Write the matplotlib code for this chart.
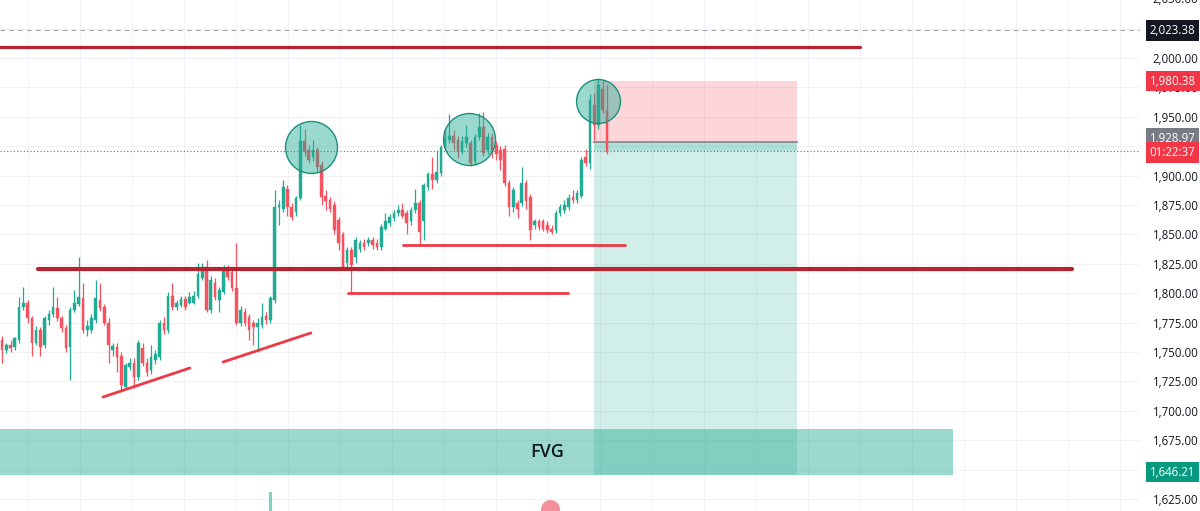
import numpy as np
import matplotlib
matplotlib.use('Agg')
import matplotlib.pyplot as plt
from matplotlib.patches import Rectangle
from matplotlib.ticker import FixedLocator, FuncFormatter

# ---------------- data ----------------
opens = [1760,1752,1756,1754,1760,1788,1792,1779,1758,1769,
         1756,1777,1782,1787,1779,1770,1754,1786,1791,1796,
         1769,1769,1777,1794,1788,1775,1752,1754,1747,1720,
         1737,1741,1729,1753,1741,1735,1743,1746,1775,1769,
         1798,1788,1790,1795,1792,1792,1798,1813,1822,1786,
         1809,1794,1801,1820,1818,1804,1775,1784,1780,1775,
         1771,1773,1781,1777,1794,1873,1872,1889,1873,1869,
         1881,1929,1922,1916,1922,1909,1883,1879,1875,1862,
         1850,1826,1837,1831,1838,1843,1843,1845,1843,1839,
         1855,1860,1864,1868,1871,1868,1861,1871,1877,1861,
         1890,1901,1896,1902,1924,1930,1934,1930,1920,1928,
         1928,1912,1933,1941,1922,1933,1926,1922,1923,1894,
         1873,1877,1877,1894,1882,1858,1861,1861,1858,1855,
         1854,1868,1871,1873,1882,1879,1883,1916,1911,1960,
         1943,1974,1956]
highs = [1764,1758,1760,1763,1797,1805,1794,1781,1772,1771,
         1781,1786,1805,1797,1781,1773,1788,1803,1831,1809,
         1777,1782,1811,1809,1791,1779,1758,1758,1750,1741,
         1745,1745,1760,1758,1745,1756,1752,1777,1780,1801,
         1809,1794,1798,1798,1801,1802,1826,1826,1828,1815,
         1813,1805,1824,1824,1821,1843,1789,1787,1782,1777,
         1779,1792,1784,1798,1888,1879,1896,1892,1877,1883,
         1943,1940,1926,1930,1924,1912,1888,1882,1878,1865,
         1852,1839,1839,1848,1845,1846,1848,1848,1846,1859,
         1868,1867,1871,1875,1877,1871,1873,1889,1879,1894,
         1903,1916,1922,1926,1940,1952,1939,1934,1934,1943,
         1930,1935,1953,1954,1936,1936,1929,1925,1926,1896,
         1890,1879,1907,1896,1884,1863,1863,1863,1861,1858,
         1871,1876,1879,1884,1888,1888,1916,1923,1969,1970,
         1983,1981,1977]
lows = [1741,1749,1750,1752,1758,1786,1775,1747,1756,1747,
        1753,1773,1780,1776,1767,1750,1726,1784,1789,1766,
        1764,1766,1775,1785,1773,1741,1747,1733,1716,1718,
        1735,1719,1726,1738,1730,1731,1740,1743,1765,1766,
        1786,1786,1788,1786,1791,1791,1796,1811,1784,1783,
        1794,1784,1799,1811,1802,1773,1772,1772,1760,1756,
        1750,1770,1774,1775,1792,1858,1869,1866,1862,1866,
        1879,1917,1911,1912,1903,1875,1871,1869,1850,1837,
        1820,1821,1800,1826,1835,1837,1840,1838,1837,1837,
        1854,1857,1861,1866,1864,1850,1858,1868,1841,1845,
        1888,1889,1894,1900,1922,1928,1922,1915,1918,1924,
        1908,1909,1930,1917,1918,1915,1913,1905,1891,1866,
        1869,1864,1874,1872,1845,1855,1854,1853,1851,1850,
        1851,1866,1868,1871,1877,1877,1881,1908,1906,1930,
        1940,1953,1918]
closes = [1752,1756,1753,1762,1788,1792,1779,1758,1769,1754,
          1779,1782,1788,1779,1770,1753,1786,1792,1797,1769,
          1772,1779,1796,1787,1775,1756,1755,1746,1722,1739,
          1741,1729,1758,1741,1733,1746,1748,1775,1769,1798,
          1788,1792,1795,1788,1797,1798,1816,1822,1786,1811,
          1797,1803,1820,1814,1804,1775,1786,1775,1769,1771,
          1775,1780,1777,1796,1873,1875,1890,1873,1865,1881,
          1929,1920,1913,1922,1907,1882,1878,1872,1854,1843,
          1822,1837,1824,1845,1843,1839,1845,1841,1839,1856,
          1861,1865,1868,1871,1866,1860,1871,1877,1852,1892,
          1901,1896,1903,1924,1932,1934,1928,1920,1929,1933,
          1911,1933,1941,1919,1933,1919,1918,1913,1894,1873,
          1888,1872,1894,1878,1854,1861,1856,1855,1854,1852,
          1868,1873,1875,1881,1879,1885,1913,1911,1964,1943,
          1977,1956,1920]

y_ticks = [1625, 1650, 1675, 1700, 1725, 1750, 1775, 1800, 1825, 1850, 1875,
           1900, 1950, 1975, 2000]
grid_levels = [1625, 1650, 1675, 1700, 1725, 1750, 1775, 1800, 1825, 1850, 1875,
               1900, 1925, 1950, 1975, 2000, 2025]

resistance_top = 2009.4
support_main = 1820.6
support_low = 1800.0
support_mid = 1841.0
entry_price = 1928.97
stop_price = 1980.38
target_price = 1646.21
last_price = 1921.0
marked_price = 2023.38
fvg_top = 1684.5
fvg_bottom = 1645.0
countdown = "01:22:37"

# ---------------- style ----------------
UP = '#22ab94'
DN = '#f7525f'
LINE_DARK = '#b8232e'
LINE_RED = '#ee3a46'
TEXT = '#131722'
FONT = 'Open Sans'

fig = plt.figure(figsize=(12, 5.11), dpi=100)
ax = fig.add_axes([0, 0, 1140/1200, 1])
ax.set_facecolor('white')

n = len(closes)
idx = np.arange(n)
o = np.array(opens, float); c = np.array(closes, float)
h = np.array(highs, float); l = np.array(lows, float)
up = c >= o
cols = np.where(up, UP, DN)

ax.set_xlim(-0.47, 267.1)
ax.set_ylim(1614.8, 2049.3)

# grid
for gx in np.arange(6.1, 268, 12.2):
    ax.axvline(gx, color='#f0f2f5', lw=0.8, zorder=0)
for gy in grid_levels:
    ax.axhline(gy, color='#f0f2f5', lw=0.8, zorder=0)

# candles
ax.vlines(idx, l, h, colors=cols, lw=0.9, zorder=2)
body_h = np.abs(c - o)
body_h = np.where(body_h < 0.8, 0.8, body_h)
ax.bar(idx, body_h, bottom=np.minimum(o, c), width=0.62, color=cols,
       edgecolor=cols, lw=0.3, zorder=3)

# FVG zone
ax.add_patch(Rectangle((-0.47, fvg_bottom), 223.7, fvg_top - fvg_bottom,
                       facecolor=UP, alpha=0.45, lw=0, zorder=1))
ax.text(127.9, (fvg_top + fvg_bottom) / 2, 'FVG', ha='center', va='center',
        fontsize=13, color=TEXT, family=FONT, fontweight='semibold', zorder=6)

# short position tool
px0, pw = 139.0, 47.6
ax.add_patch(Rectangle((px0, entry_price), pw, stop_price - entry_price,
                       facecolor='#f23645', alpha=0.2, lw=0, zorder=1))
ax.add_patch(Rectangle((px0, fvg_bottom), pw, entry_price - fvg_bottom,
                       facecolor=UP, alpha=0.2, lw=0, zorder=1))
ax.add_patch(Rectangle((px0, last_price), pw, entry_price - last_price,
                       facecolor=UP, alpha=0.2, lw=0, zorder=1))
ax.plot([px0, px0 + pw], [entry_price, entry_price], color='#8a8d96', lw=1.3, zorder=2)

# horizontal lines
ax.axhline(marked_price, color='#a3a6af', lw=0.8, ls=(0, (4, 4)), zorder=1)
ax.axhline(last_price, color='#f23645', lw=0.8, ls=(0, (1, 2)), zorder=1)
ax.plot([-0.47, 201.4], [resistance_top, resistance_top], color=LINE_DARK,
        lw=2.3, solid_capstyle='round', zorder=5)
ax.plot([8.45, 251.2], [support_main, support_main], color=LINE_DARK,
        lw=3.0, solid_capstyle='round', zorder=5)
ax.plot([81.2, 132.9], [support_low, support_low], color=LINE_RED,
        lw=2.0, solid_capstyle='round', zorder=5)
ax.plot([94.1, 146.2], [support_mid, support_mid], color=LINE_RED,
        lw=2.0, solid_capstyle='round', zorder=5)
ax.plot([23.7, 44.1], [1711.7, 1736.4], color=LINE_RED, lw=2.0,
        solid_capstyle='round', zorder=5)
ax.plot([51.9, 72.5], [1741.5, 1766.2], color=LINE_RED, lw=2.0,
        solid_capstyle='round', zorder=5)

# circles on the three tops
ax.scatter([72.5, 109.6], [1924.5, 1931.3], s=1400, facecolor=(0.133, 0.67, 0.58, 0.45),
           edgecolor='#1d8f7c', lw=1.0, zorder=6)
ax.scatter([139.9], [1963.6], s=1000, facecolor=(0.133, 0.67, 0.58, 0.45),
           edgecolor='#1d8f7c', lw=1.0, zorder=6)

# bottom markers
ax.plot([62.9, 62.9], [1614.8, 1630.0], color='#7fd3c3', lw=2.2, zorder=4)
ax.scatter([128.6], [1616.5], s=160, color='#f3909c', zorder=4, clip_on=True)

# axes styling
for s in ax.spines.values():
    s.set_visible(False)
ax.xaxis.set_visible(False)
ax.yaxis.tick_right()
ax.yaxis.set_major_locator(FixedLocator(y_ticks))
ax.yaxis.set_major_formatter(FuncFormatter(lambda v, p: f"{v:,.2f}"))
ax.tick_params(axis='y', length=0, pad=9, labelsize=8.3, labelcolor=TEXT)
for t in ax.get_yticklabels():
    t.set_family(FONT)

ytr = ax.get_yaxis_transform()
ax.text(1.0105, 2050, "2,050.00", transform=ytr, ha='left', va='center',
        fontsize=8.3, color=TEXT, family=FONT, clip_on=False)


def price_box(y, label, fc):
    ax.text(1.0085, y, label, transform=ytr, ha='left', va='center', fontsize=8.3,
            color='white', family=FONT, clip_on=False, zorder=20,
            bbox=dict(boxstyle='square,pad=0.32', fc=fc, ec='none'))


price_box(marked_price, f"{marked_price:,.2f}", '#131722')
price_box(stop_price, f"{stop_price:,.2f}", '#f23645')
price_box(entry_price + 2.5, f"{entry_price:,.2f}", '#787b86')
price_box(last_price - 1.5, countdown, '#f23645')
price_box(target_price + 1.5, f"{target_price:,.2f}", '#089981')

fig.savefig('out.png', dpi=100, facecolor='white')
